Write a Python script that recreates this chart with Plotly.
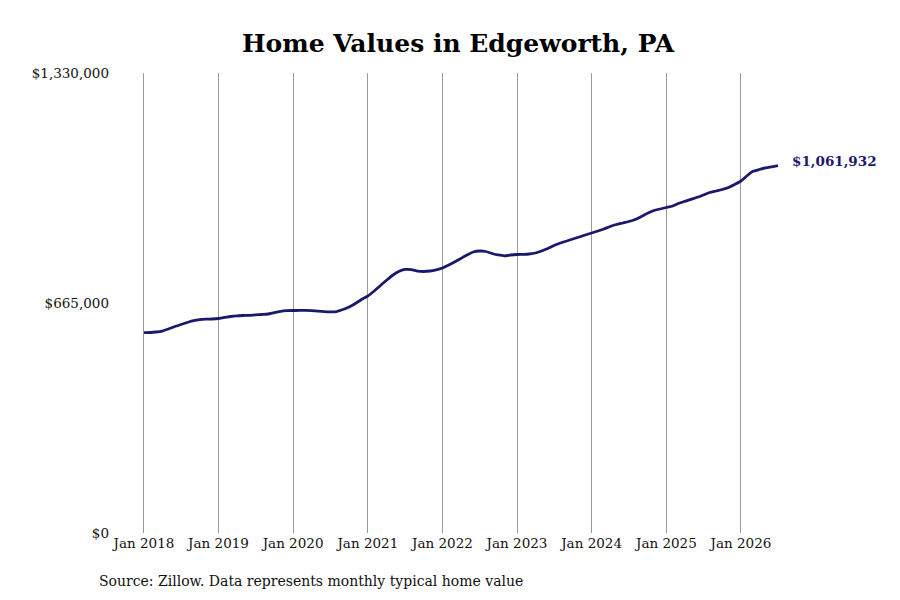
import plotly.graph_objects as go
import pandas as pd

start_month = "2018-01-01"
home_values = [
    579100, 579700, 581150, 584000, 589800, 597000, 602800, 608600, 613800, 616700, 618200, 618700,
    620200, 623100, 626000, 628000, 628900, 629400, 630900, 631800, 633200, 637500, 641000, 642700,
    643300, 643400, 643500, 642700, 641300, 640100, 639600, 640400, 646200, 653400, 663500, 675100,
    685200, 699700, 714200, 730000, 744500, 756100, 761900, 761500, 757500, 756100, 757500, 761000,
    766200, 774900, 783500, 793700, 803800, 812500, 815300, 813900, 808100, 803800, 801500, 803800,
    805200, 805800, 806700, 809600, 815300, 822600, 831300, 838500, 844300, 850000, 855800, 861600,
    867400, 873200, 879000, 886200, 892000, 896300, 900600, 906400, 915100, 924400, 932400, 936800,
    941100, 945500, 952700, 959000, 964800, 970600, 977300, 984500, 988800, 993200, 999000, 1007600,
    1017700, 1033600, 1045600, 1051000, 1055500, 1058800, 1061932,
]
dates = pd.date_range(start_month, periods=len(home_values), freq="MS")

y_tick_vals = [0, 665000, 1330000]
y_tick_text = ["$0", "$665,000", "$1,330,000"]
x_tick_vals = pd.date_range("2018-01-01", "2026-01-01", freq="YS")
x_tick_text = [f"Jan {d.year}" for d in x_tick_vals]

title_text = "Home Values in Edgeworth, PA"
source_text = "Source: Zillow. Data represents monthly typical home value"
end_label = f"${home_values[-1]:,}"

LINE = "#1b196c"
FONT = "DejaVu Serif"

fig = go.Figure()
fig.add_trace(go.Scatter(
    x=dates, y=home_values, mode="lines",
    line=dict(color=LINE, width=2.8, shape="spline", smoothing=0.6),
    hoverinfo="skip", showlegend=False,
))

fig.add_annotation(
    x=dates[-1], y=home_values[-1], text=f"<b>{end_label}</b>",
    showarrow=False, xanchor="left", yanchor="middle", xshift=12, yshift=5,
    font=dict(family=FONT, size=13.5, color=LINE),
)
fig.add_annotation(
    x=0, y=0, xref="paper", yref="paper", text=source_text, showarrow=False,
    xanchor="left", yanchor="top", xshift=-13, yshift=-38,
    font=dict(family=FONT, size=14, color="#111111"),
)

fig.update_layout(
    width=900, height=600,
    margin=dict(l=102, r=118, t=65, b=75),
    paper_bgcolor="white", plot_bgcolor="white",
    title=dict(text=f"<b>{title_text}</b>", x=0.5, xanchor="center", y=0.9417, yanchor="middle",
               font=dict(family=FONT, size=25, color="black")),
    font=dict(family=FONT, size=13.5, color="#111111"),
    xaxis=dict(
        range=["2017-07-19", "2026-08-29"],
        tickvals=x_tick_vals, ticktext=x_tick_text,
        showgrid=True, gridcolor="#9a9a9a", gridwidth=1,
        showline=False, zeroline=False, ticks="",
    ),
    yaxis=dict(
        range=[0, 1330000],
        tickvals=y_tick_vals, ticktext=y_tick_text,
        showgrid=False, zeroline=False, showline=False, ticks="",
    ),
)

fig.write_html("out.html")
